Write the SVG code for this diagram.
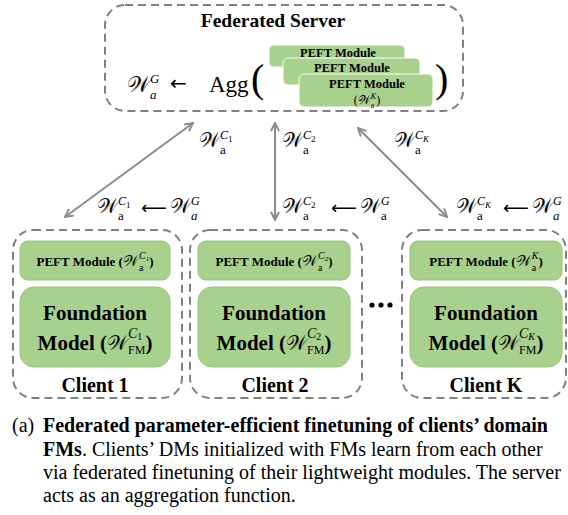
<svg xmlns="http://www.w3.org/2000/svg" width="568" height="515" viewBox="0 0 568 515">
<style>
.dash{fill:none;stroke:#808080;stroke-width:2;stroke-dasharray:8 5}
.g{fill:#a9d18e;stroke:#98c47b;stroke-width:1}
.gs{fill:#a9d18e;stroke:#ffffff;stroke-width:1}
text{font-family:"Liberation Serif","Times New Roman",serif;fill:#000}
.b{font-weight:bold}
.w{font-family:"DejaVu Serif","Noto Sans",serif;font-weight:normal;font-style:normal}
.i{font-style:italic;font-weight:normal}
.n{font-weight:normal;font-style:normal}
.ar{font-family:"DejaVu Sans",sans-serif}
.conn{stroke:#8c8c8c;stroke-width:2;fill:none}
</style>
<defs>
<marker id="ah" viewBox="0 0 10 10" refX="9" refY="5" markerWidth="10" markerHeight="10" markerUnits="userSpaceOnUse" orient="auto-start-reverse">
<path d="M1,1 L9,5 L1,9" fill="none" stroke="#8c8c8c" stroke-width="2"/>
</marker>
</defs>

<g id="server">
<rect class="dash" x="105" y="5" width="358" height="106" rx="20"/>
<text class="b" x="273" y="27" font-size="19.5" text-anchor="middle">Federated Server</text>
<text x="127" y="92"><tspan class="w" font-size="22">𝒲</tspan><tspan class="i" font-size="13" dy="7">a</tspan><tspan class="i" font-size="13" dx="-6.5" dy="-16">G</tspan><tspan class="ar" x="170" y="90" font-size="20">←</tspan><tspan x="209" y="92" font-size="23">Agg</tspan></text>
<text x="251" y="92" font-size="40">(</text>
<text x="435" y="92" font-size="40">)</text>
<rect class="gs" x="269" y="45" width="136" height="22" rx="5"/>
<rect class="gs" x="283" y="58" width="137" height="27" rx="5"/>
<rect class="gs" x="299" y="74" width="134" height="33" rx="5"/>
<text class="b" x="338" y="57" font-size="12.5" text-anchor="middle">PEFT Module</text>
<text class="b" x="352" y="72" font-size="12.5" text-anchor="middle">PEFT Module</text>
<text class="b" x="367" y="88" font-size="12.5" text-anchor="middle">PEFT Module</text>
<text x="367" y="104" font-size="12" text-anchor="middle">(<tspan class="w">𝒲</tspan><tspan font-size="8" dy="4">a</tspan><tspan class="i" font-size="8" dx="-3.6" dy="-9">K</tspan><tspan dy="5">)</tspan></text>
</g>

<g id="connectors">
<line class="conn" x1="193" y1="123" x2="65" y2="217" marker-start="url(#ah)" marker-end="url(#ah)"/>
<line class="conn" x1="275" y1="123" x2="275" y2="220" marker-start="url(#ah)" marker-end="url(#ah)"/>
<line class="conn" x1="358" y1="128" x2="447" y2="217" marker-start="url(#ah)" marker-end="url(#ah)"/>
<text x="199" y="147"><tspan class="w" font-size="20">𝒲</tspan><tspan font-size="13" dy="7">a</tspan><tspan class="i" font-size="12" dx="-5.8" dy="-15">C</tspan><tspan font-size="9" dy="3">1</tspan></text>
<text x="282" y="147"><tspan class="w" font-size="20">𝒲</tspan><tspan font-size="13" dy="7">a</tspan><tspan class="i" font-size="12" dx="-5.8" dy="-15">C</tspan><tspan font-size="9" dy="3">2</tspan></text>
<text x="394" y="147"><tspan class="w" font-size="20">𝒲</tspan><tspan font-size="13" dy="7">a</tspan><tspan class="i" font-size="12" dx="-5.8" dy="-15">C</tspan><tspan class="i" font-size="9" dy="3">K</tspan></text>

<text x="97" y="213"><tspan class="w" font-size="20">𝒲</tspan><tspan font-size="13" dy="7">a</tspan><tspan class="i" font-size="12" dx="-5.8" dy="-15">C</tspan><tspan font-size="9" dy="3">1</tspan><tspan class="ar" x="141" y="214" font-size="18">⟵</tspan><tspan class="w" x="170" y="213" font-size="20">𝒲</tspan><tspan class="i" font-size="13" dy="7">a</tspan><tspan class="i" font-size="12" dx="-6.5" dy="-15">G</tspan></text>

<text x="282" y="213"><tspan class="w" font-size="20">𝒲</tspan><tspan font-size="13" dy="7">a</tspan><tspan class="i" font-size="12" dx="-5.8" dy="-15">C</tspan><tspan font-size="9" dy="3">2</tspan><tspan class="ar" x="331" y="214" font-size="18">⟵</tspan><tspan class="w" x="360" y="213" font-size="20">𝒲</tspan><tspan font-size="13" dy="7">a</tspan><tspan class="i" font-size="12" dx="-5.8" dy="-15">G</tspan></text>

<text x="456" y="213"><tspan class="w" font-size="20">𝒲</tspan><tspan font-size="13" dy="7">a</tspan><tspan class="i" font-size="12" dx="-5.8" dy="-15">C</tspan><tspan class="i" font-size="9" dy="3">K</tspan><tspan class="ar" x="503" y="214" font-size="18">⟵</tspan><tspan class="w" x="532" y="213" font-size="20">𝒲</tspan><tspan class="i" font-size="13" dy="7">a</tspan><tspan class="i" font-size="12" dx="-6.5" dy="-15">G</tspan></text>
</g>

<g id="client1">
<rect class="dash" x="13" y="230" width="169" height="168" rx="20"/>
<rect class="g" x="20" y="241" width="150" height="39" rx="8"/>
<rect class="g" x="20" y="287" width="150" height="80" rx="14"/>
<text class="b" x="95" y="266" font-size="13" text-anchor="middle">PEFT Module (<tspan class="w" font-size="15">𝒲</tspan><tspan class="n" font-size="10" dy="5">a</tspan><tspan class="i" font-size="10" dx="-4.4" dy="-12">C</tspan><tspan class="n" font-size="7" dy="2">1</tspan><tspan dy="5">)</tspan></text>
<text class="b" x="95" y="320" font-size="21" text-anchor="middle">Foundation</text>
<text class="b" x="95" y="350" font-size="21" text-anchor="middle">Model (<tspan class="w" font-size="20">𝒲</tspan><tspan class="i" font-size="14" dy="-12">C</tspan><tspan class="n" font-size="10" dy="2">1</tspan><tspan class="n" font-size="12" dx="-14.3" dy="14">FM</tspan><tspan dy="-4">)</tspan></text>
<text class="b" x="95" y="392" font-size="20" text-anchor="middle">Client 1</text>
</g>

<g id="client2">
<rect class="dash" x="190" y="230" width="172" height="168" rx="20"/>
<rect class="g" x="198" y="241" width="152" height="39" rx="8"/>
<rect class="g" x="198" y="287" width="152" height="80" rx="14"/>
<text class="b" x="274" y="266" font-size="13" text-anchor="middle">PEFT Module (<tspan class="w" font-size="15">𝒲</tspan><tspan class="n" font-size="10" dy="5">a</tspan><tspan class="i" font-size="10" dx="-4.4" dy="-12">C</tspan><tspan class="n" font-size="7" dy="2">2</tspan><tspan dy="5">)</tspan></text>
<text class="b" x="274" y="320" font-size="21" text-anchor="middle">Foundation</text>
<text class="b" x="274" y="350" font-size="21" text-anchor="middle">Model (<tspan class="w" font-size="20">𝒲</tspan><tspan class="i" font-size="14" dy="-12">C</tspan><tspan class="n" font-size="10" dy="2">2</tspan><tspan class="n" font-size="12" dx="-14.3" dy="14">FM</tspan><tspan dy="-4">)</tspan></text>
<text class="b" x="275" y="392" font-size="20" text-anchor="middle">Client 2</text>
</g>

<g id="dots">
<circle cx="372" cy="305" r="2.6" fill="#000"/>
<circle cx="381" cy="305" r="2.6" fill="#000"/>
<circle cx="390" cy="305" r="2.6" fill="#000"/>
</g>

<g id="clientK">
<rect class="dash" x="402" y="230" width="164" height="168" rx="20"/>
<rect class="g" x="410" y="241" width="152" height="39" rx="8"/>
<rect class="g" x="410" y="287" width="152" height="80" rx="14"/>
<text class="b" x="486" y="266" font-size="13" text-anchor="middle">PEFT Module (<tspan class="w" font-size="15">𝒲</tspan><tspan class="n" font-size="10" dy="5">a</tspan><tspan class="i" font-size="10" dx="-4.4" dy="-12">K</tspan><tspan dy="7">)</tspan></text>
<text class="b" x="486" y="320" font-size="21" text-anchor="middle">Foundation</text>
<text class="b" x="486" y="350" font-size="21" text-anchor="middle">Model (<tspan class="w" font-size="20">𝒲</tspan><tspan class="i" font-size="14" dy="-12">C</tspan><tspan class="i" font-size="10" dy="2">K</tspan><tspan class="n" font-size="12" dx="-16" dy="14">FM</tspan><tspan dy="-4">)</tspan></text>
<text class="b" x="486" y="392" font-size="20" text-anchor="middle">Client K</text>
</g>

<g id="caption">
<text x="12" y="432" font-size="20">(a)</text>
<text class="b" x="43" y="432" font-size="20">Federated parameter-efficient finetuning of clients’ domain</text>
<text x="43" y="456" font-size="20"><tspan class="b">FMs</tspan>. Clients’ DMs initialized with FMs learn from each other</text>
<text x="43" y="479" font-size="20">via federated finetuning of their lightweight modules. The server</text>
<text x="43" y="502" font-size="20">acts as an aggregation function.</text>
</g>
</svg>
